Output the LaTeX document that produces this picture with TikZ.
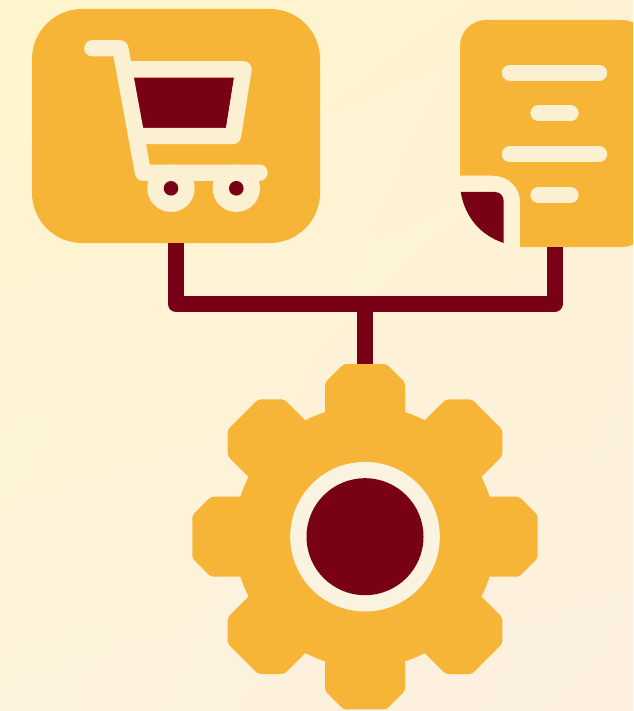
\documentclass[tikz,border=0pt]{standalone}
\usepackage{xcolor}
\usetikzlibrary{positioning,calc,shadings}
\definecolor{amber}{HTML}{F7B538}
\definecolor{maroon}{HTML}{780116}
\definecolor{creamy}{HTML}{FBF0D2}
\definecolor{ringcream}{HTML}{FAF3DF}
\definecolor{paperul}{RGB}{255,245,204}
\definecolor{paperur}{RGB}{253,243,210}
\definecolor{paperll}{RGB}{254,243,220}
\definecolor{paperlr}{RGB}{252,239,224}

\begin{document}
\begin{tikzpicture}[
  x=1pt, y=-1pt,
  iconbox/.style={rectangle, fill=amber, rounded corners=50pt, inner sep=0pt,
                  minimum width=288pt, minimum height=234pt},
  wire/.style={draw=maroon, line width=16pt, line join=round},
  cartline/.style={draw=creamy, line width=16.3pt, line cap=round, line join=round},
  textline/.style={draw=creamy, line width=16.3pt, line cap=round},
  wheel/.style={circle, fill=creamy, inner sep=0pt, minimum size=47.4pt},
  axle/.style={circle, fill=maroon, inner sep=0pt, minimum size=14.6pt},
  hubring/.style={circle, fill=ringcream, inner sep=0pt, minimum size=149.6pt},
  hubcore/.style={circle, fill=maroon, inner sep=0pt, minimum size=117pt}
]
  % background
  \useasboundingbox (0,0) rectangle (633,711);
  \shade[upper left=paperul, upper right=paperur, lower left=paperll, lower right=paperlr]
    (0,0) rectangle (633,711);

  % gear
  \begin{scope}[shift={(365,536.7)}]
    \fill[amber] (0,0) circle (130.8pt);
    \foreach \a in {0,45,...,315}
      \fill[amber, rounded corners=3pt, rotate=\a]
        (-40,-115) -- (-40,-154.2) -- (-21.5,-172.7) -- (21.5,-172.7) -- (40,-154.2) -- (40,-115) -- cycle;
  \end{scope}
  \node[hubring] (gearring) at (365,536.7) {};
  \node[hubcore] (gearhub) at (gearring) {};
  \coordinate (geartop) at (365,364);

  % cart
  \node[iconbox] (cartbox) at (176,126) {};
  \node[wheel] (wheela) at (171,188.3) {};
  \node[wheel] (wheelb) at (236.3,188.3) {};
  \node[axle] (axlea) at (wheela) {};
  \node[axle] (axleb) at (wheelb) {};
  \fill[maroon] (133.3,77.7) -- (234,77.7) -- (226,128) -- (142,128) -- cycle;
  \draw[cartline] (92.3,48.3) -- (120.3,48.3) -- (143,172.7) -- (259.5,172.7);
  \draw[cartline] (127,69.3) -- (243.6,69.3) -- (233,136) -- (139,136);

  % document
  \begin{scope}
    \clip (0,0) rectangle (633,711);
    \fill[amber, rounded corners=26pt] (460,175.7) -- (460,20) -- (648,20) -- (648,247) -- (615,247)
      [sharp corners] -- (520,247) -- (520,202) .. controls (520,187) and (508,175.7) .. (493,175.7) -- cycle;
  \end{scope}
  \fill[maroon] (460.7,192) -- (495,192) .. controls (500,192) and (503.7,196) .. (503.7,201)
    -- (503.7,243) .. controls (480,235) and (465,217) .. (460.7,192) -- cycle;
  \draw[textline] (509.9,72.7) -- (599.1,72.7);
  \draw[textline] (538.5,113.3) -- (570.5,113.3);
  \draw[textline] (509.9,154.3) -- (599.1,154.3);
  \draw[textline] (538.5,195.3) -- (570.5,195.3);
  \coordinate (docfoot) at (554.5,247);

  % connectors
  \coordinate (busjoint) at (365,304);
  \draw[wire] (cartbox.south) |- (busjoint) -| (docfoot);
  \draw[wire] (busjoint) -- (geartop);
\end{tikzpicture}
\end{document}
